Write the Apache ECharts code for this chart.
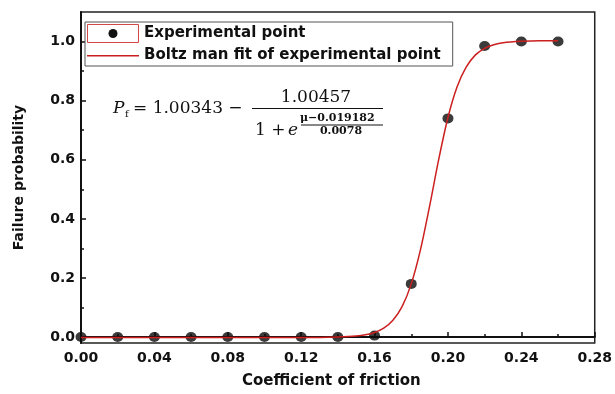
<!DOCTYPE html>
<html><head><meta charset="utf-8">
<script src="https://cdn.jsdelivr.net/npm/echarts@6/dist/echarts.min.js"></script>
<style>html,body{margin:0;padding:0;background:#fff}#c{width:615px;height:394px}</style>
</head><body><div id="c"></div>
<script>
const expX = [0, 0.02, 0.04, 0.06, 0.08, 0.10, 0.12, 0.14, 0.16, 0.18, 0.20, 0.22, 0.24, 0.26];
const expY = [0, 0, 0, 0, 0, 0, 0, 0, 0.005, 0.18, 0.74, 0.985, 1.0, 1.0];
const fitX = [0, 0.02, 0.04, 0.06, 0.08, 0.10, 0.12, 0.13, 0.14, 0.15, 0.155, 0.16, 0.165, 0.17, 0.175, 0.18, 0.185, 0.19, 0.195, 0.20, 0.205, 0.21, 0.215, 0.22, 0.225, 0.23, 0.24, 0.25, 0.26];
const fitY = [-0.001, -0.001, -0.001, -0.001, -0.001, -0.001, -0.001, -0.001, 0.0002, 0.0035, 0.0077, 0.0156, 0.030, 0.057, 0.103, 0.180, 0.295, 0.443, 0.602, 0.743, 0.847, 0.914, 0.955, 0.977, 0.989, 0.996, 1.001, 1.003, 1.003];
const yTicks = [0, 0.2, 0.4, 0.6, 0.8, 1.0];
const yMinorTicks = [0.1, 0.3, 0.5, 0.7, 0.9];
const seriesNames = ['Experimental point', 'Boltz man fit of experimental point'];

const FONT = 'DejaVu Sans';
const SERIF = '"DejaVu Serif"';
const chart = echarts.init(document.getElementById('c'), null, {renderer: 'canvas'});
const lineColor = '#cc1f1f';
chart.setOption({
  animation: false,
  grid: {left: 81, right: 16, top: 12, bottom: 50, show: true, borderColor: '#222', borderWidth: 1.5, backgroundColor: 'transparent'},
  legend: {
    orient: 'vertical', left: 85, top: 22, padding: [2, 12, 1, 2], itemGap: 3,
    itemWidth: 52, itemHeight: 19,
    borderColor: '#555', borderWidth: 1, backgroundColor: '#fff',
    textStyle: {fontFamily: FONT, fontWeight: 'bold', fontSize: 15, color: '#111'},
    data: [
      {name: seriesNames[0], icon: 'circle', itemStyle: {color: '#fff', borderWidth: 0}},
      {name: seriesNames[1], icon: 'path://M0,0L0.01,0L0.01,0.01Z M0,9L52,9L52,10.6L0,10.6Z M0,19L0.01,19L0.01,18.99Z', itemStyle: {color: lineColor, borderWidth: 0}}
    ]
  },
  xAxis: {
    type: 'value', min: 0, max: 0.28, interval: 0.04,
    name: 'Coefficient of friction', nameLocation: 'middle', nameGap: 31,
    nameTextStyle: {fontFamily: FONT, fontWeight: 'bold', fontSize: 15, color: '#111', padding: [0, 13, 0, 0]},
    axisLine: {show: true, lineStyle: {color: '#111', width: 2}},
    axisTick: {show: true, inside: true, length: 5, lineStyle: {color: '#111', width: 1.5}},
    minorTick: {show: true, splitNumber: 2, length: 3, lineStyle: {color: '#111', width: 1.5}},
    splitLine: {show: false},
    axisLabel: {margin: 8, fontFamily: FONT, fontWeight: 'bold', fontSize: 14, color: '#111', formatter: v => v.toFixed(2)}
  },
  yAxis: [{
    type: 'value', min: -0.02, max: 1.1,
    name: 'Failure probability', nameLocation: 'middle', nameGap: 55, nameRotate: 90,
    nameTextStyle: {fontFamily: FONT, fontWeight: 'bold', fontSize: 14, color: '#111'},
    axisLine: {show: true, lineStyle: {color: '#111', width: 2}},
    axisTick: {show: true, inside: true, length: 5, customValues: yTicks, lineStyle: {color: '#111', width: 1.5}},
    splitLine: {show: false},
    axisLabel: {margin: 6, customValues: yTicks, fontFamily: FONT, fontWeight: 'bold', fontSize: 14, color: '#111', formatter: v => v.toFixed(1)}
  }, {
    type: 'value', min: -0.02, max: 1.1, position: 'left',
    axisLine: {show: false},
    axisTick: {show: true, inside: true, length: 3, customValues: yMinorTicks, lineStyle: {color: '#111', width: 1.5}},
    axisLabel: {show: false}, splitLine: {show: false}
  }],
  series: [{
    name: seriesNames[0], type: 'scatter', z: 2,
    symbol: 'circle', symbolSize: [11, 10],
    itemStyle: {color: '#0a0a0a'},
    data: expX.map((x, i) => [x, expY[i]])
  }, {
    name: seriesNames[1], type: 'line', z: 3, symbol: 'none', smooth: 0.3,
    lineStyle: {color: lineColor, width: 1.5}, itemStyle: {color: lineColor},
    data: fitX.map((x, i) => [x, fitY[i]])
  }],
  graphic: [
    {type: 'rect', shape: {x: 87.5, y: 24.5, width: 51, height: 18}, style: {fill: '#fff', stroke: '#d04848', lineWidth: 1}, z: 199},
    {type: 'circle', shape: {cx: 113, cy: 33.5, r: 4.5}, style: {fill: '#111'}, z: 200},
    {type: 'text', x: 113, y: 109, style: {text: 'P', font: 'italic 17px ' + SERIF, fill: '#111', textVerticalAlign: 'middle'}},
    {type: 'text', x: 125, y: 114, style: {text: 'f', font: '10px ' + SERIF, fill: '#111', textVerticalAlign: 'middle'}},
    {type: 'text', x: 133, y: 109, style: {text: '= 1.00343 \u2212', font: '17px ' + SERIF, fill: '#111', textVerticalAlign: 'middle'}},
    {type: 'text', x: 316, y: 98, style: {text: '1.00457', font: '17px ' + SERIF, fill: '#111', textAlign: 'center', textVerticalAlign: 'middle'}},
    {type: 'line', shape: {x1: 252, y1: 108.5, x2: 383, y2: 108.5}, style: {stroke: '#111', lineWidth: 1}},
    {type: 'text', x: 255, y: 131, style: {text: '1 + ', font: '17px ' + SERIF, fill: '#111', textVerticalAlign: 'middle'}},
    {type: 'text', x: 288, y: 131, style: {text: 'e', font: 'italic 17px ' + SERIF, fill: '#111', textVerticalAlign: 'middle'}},
    {type: 'text', x: 300, y: 118, style: {text: '\u03bc\u22120.019182', font: 'bold 11px ' + SERIF, fill: '#111', textVerticalAlign: 'middle'}},
    {type: 'line', shape: {x1: 301, y1: 125, x2: 383, y2: 125}, style: {stroke: '#111', lineWidth: 1}},
    {type: 'text', x: 341, y: 131.5, style: {text: '0.0078', font: 'bold 11px ' + SERIF, fill: '#111', textAlign: 'center', textVerticalAlign: 'middle'}}
  ]
});
</script></body></html>
